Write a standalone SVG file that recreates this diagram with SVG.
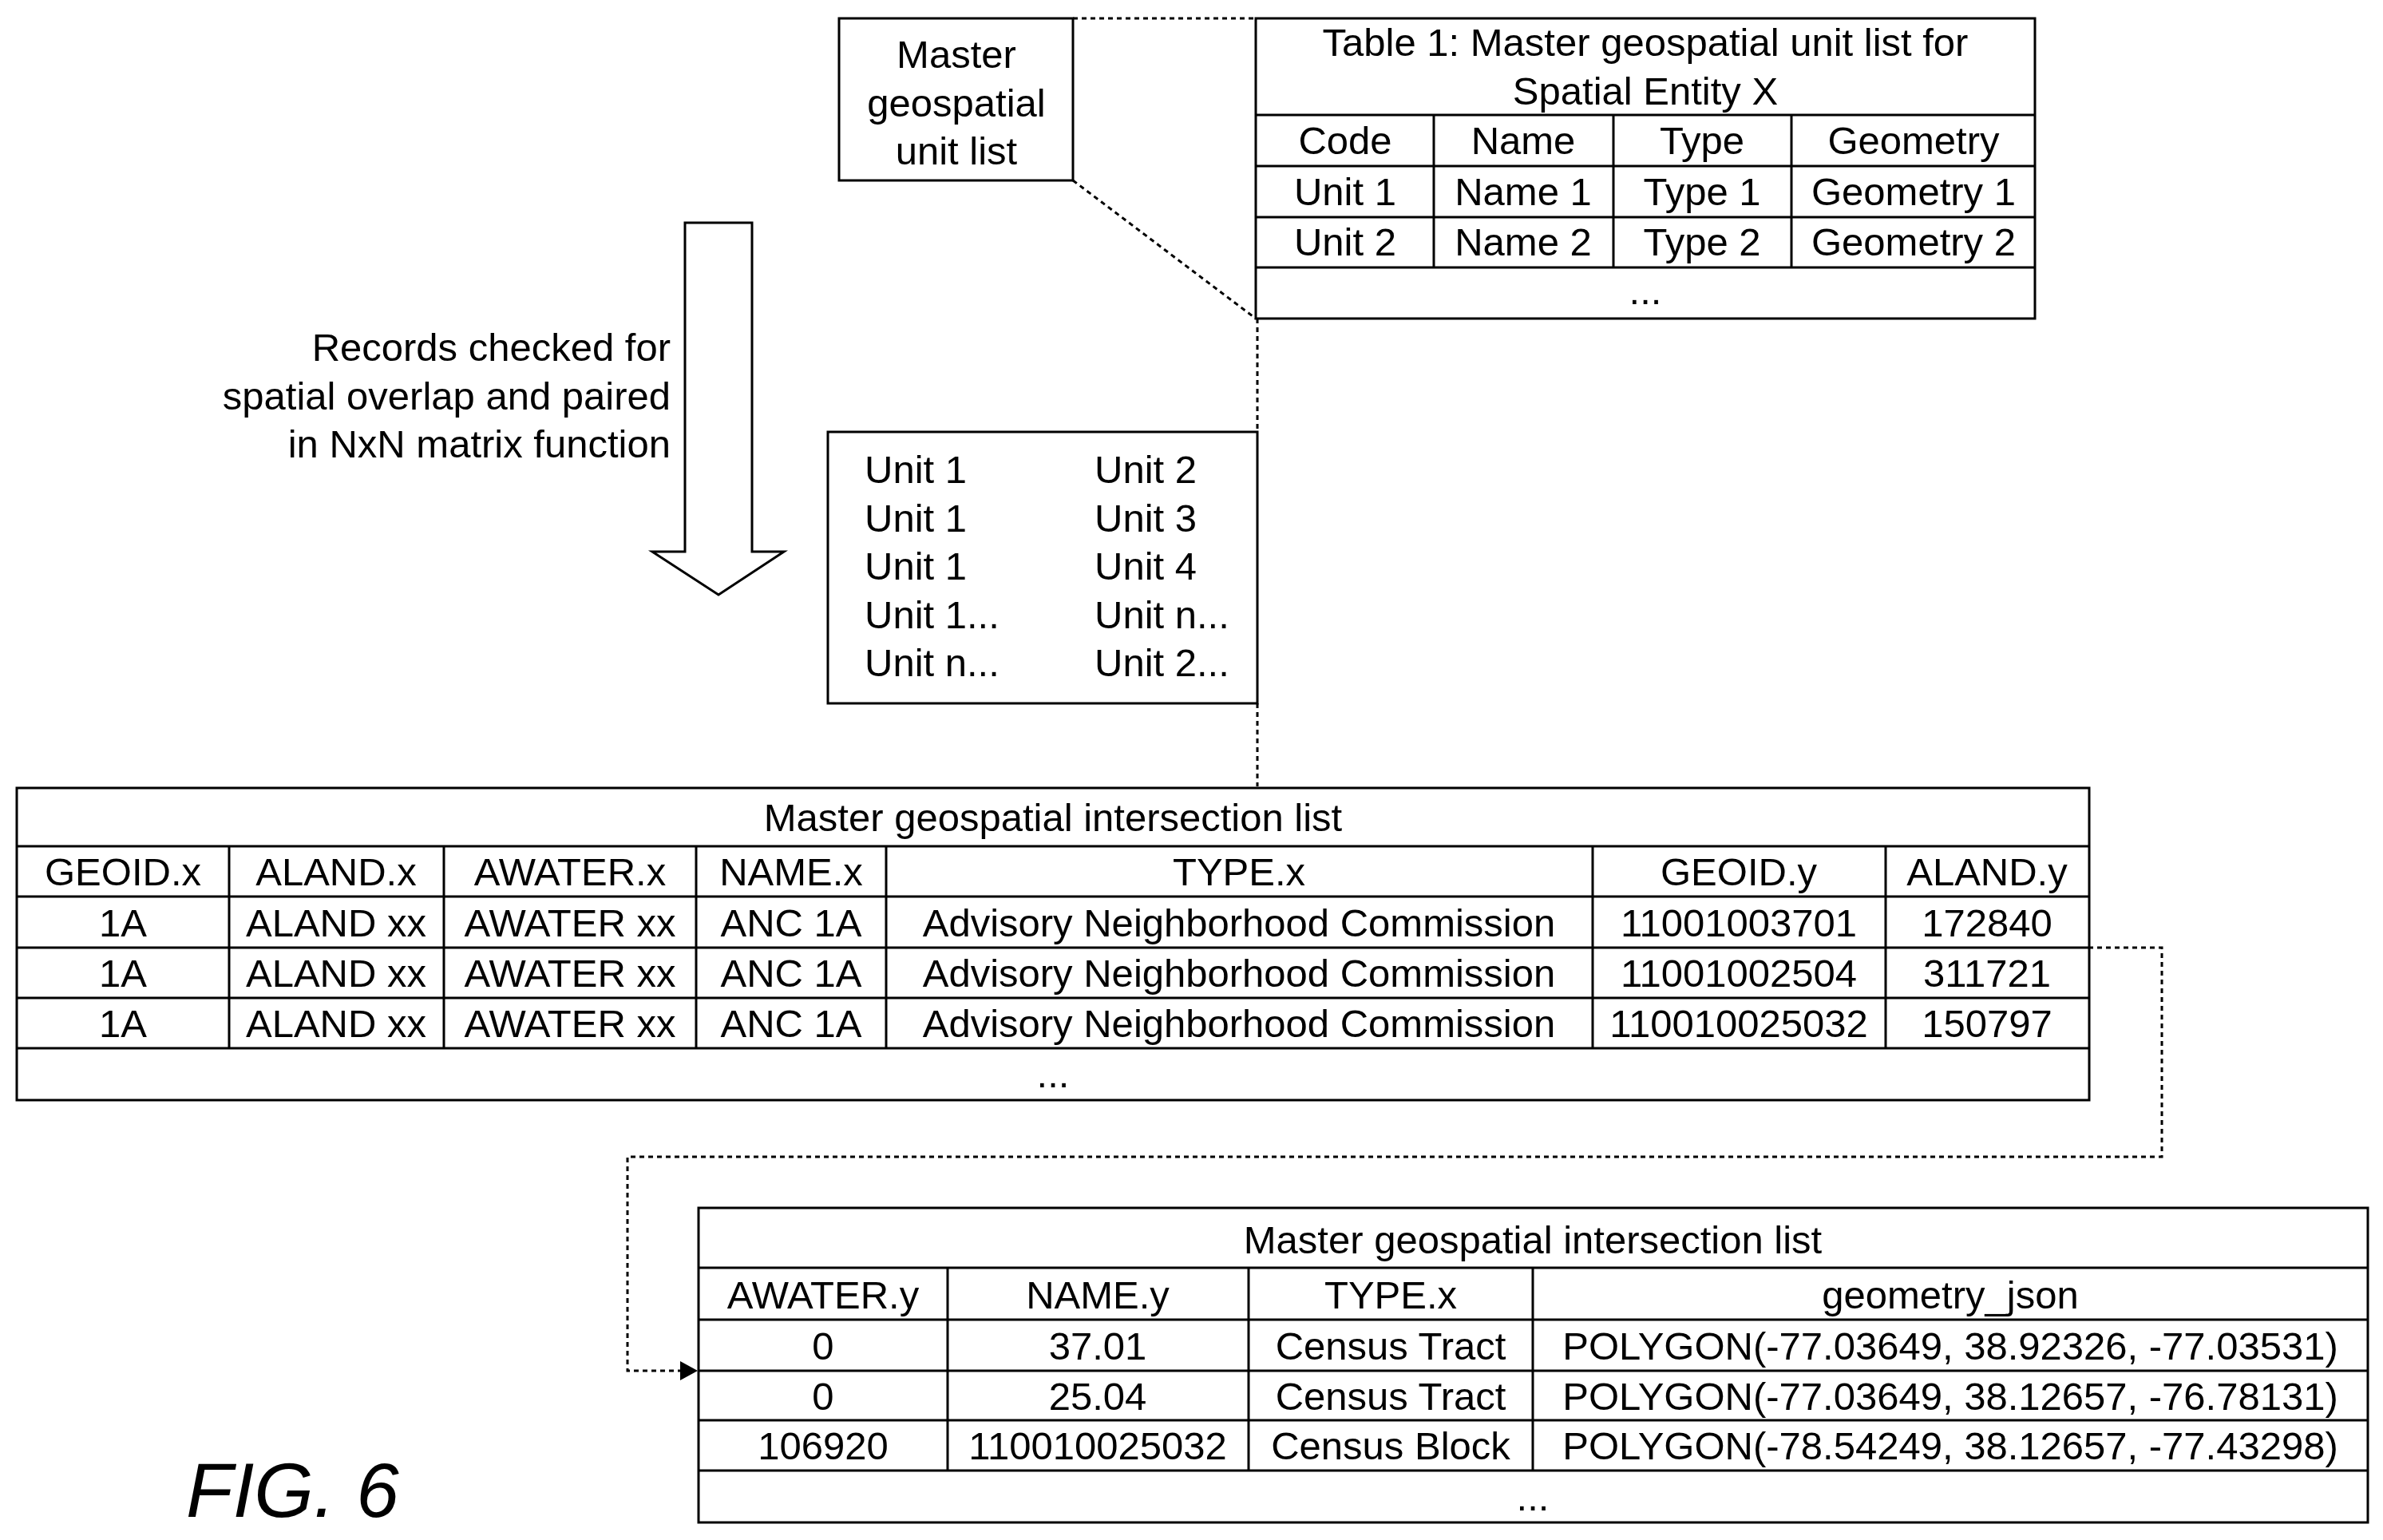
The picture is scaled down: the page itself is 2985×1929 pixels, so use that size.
<svg xmlns="http://www.w3.org/2000/svg" width="2985" height="1929" viewBox="0 0 2985 1929">
<style>
text{font-family:"Liberation Sans",Arial,sans-serif;font-size:49px;fill:#000;text-anchor:middle;dominant-baseline:central}
.l{text-anchor:start}.r{text-anchor:end}
.b{fill:#fff;stroke:#000;stroke-width:3}
.g{stroke:#000;stroke-width:3;fill:none}
.d{stroke:#000;stroke-width:3;fill:none;stroke-dasharray:6 5}
</style>
<g id="connectors">
<line class="d" x1="1344" y1="23" x2="1573" y2="23"/>
<line class="d" x1="1344" y1="226" x2="1573" y2="399"/>
<line class="d" x1="1575" y1="399" x2="1575" y2="541"/>
<line class="d" x1="1575" y1="881" x2="1575" y2="985"/>
<polyline class="d" points="2616,1187 2708,1187 2708,1449 786,1449 786,1717 852,1717"/>
<path d="M852,1705L874,1717L852,1729z" fill="#000"/>
</g>
<g id="arrow">
<path class="g" d="M858,279H942V691H982L900,745L817,691H858Z" fill="#fff"/>
<text class="r" x="840" y="435">Records checked for</text>
<text class="r" x="840" y="496">spatial overlap and paired</text>
<text class="r" x="840" y="556">in NxN matrix function</text>
</g>
<g id="master">
<rect class="b" x="1051" y="23" width="293" height="203"/>
<text x="1198" y="68">Master</text>
<text x="1198" y="129">geospatial</text>
<text x="1198" y="189">unit list</text>
</g>
<g id="table1">
<rect class="b" x="1573" y="23" width="976" height="376"/>
<path class="g" d="M1573,144H2549M1573,208H2549M1573,272H2549M1573,335H2549M1796,144V335M2021,144V335M2244,144V335"/>
<text x="2061" y="53">Table 1: Master geospatial unit list for</text>
<text x="2061" y="114">Spatial Entity X</text>
<text x="1685" y="176">Code</text><text x="1908" y="176">Name</text><text x="2132" y="176">Type</text><text x="2397" y="176">Geometry</text>
<text x="1685" y="240">Unit 1</text><text x="1908" y="240">Name 1</text><text x="2132" y="240">Type 1</text><text x="2397" y="240">Geometry 1</text>
<text x="1685" y="303">Unit 2</text><text x="1908" y="303">Name 2</text><text x="2132" y="303">Type 2</text><text x="2397" y="303">Geometry 2</text>
<text x="2061" y="364">...</text>
</g>
<g id="pairs">
<rect class="b" x="1037" y="541" width="538" height="340"/>
<text class="l" x="1083" y="588">Unit 1</text><text class="l" x="1371" y="588">Unit 2</text>
<text class="l" x="1083" y="649">Unit 1</text><text class="l" x="1371" y="649">Unit 3</text>
<text class="l" x="1083" y="709">Unit 1</text><text class="l" x="1371" y="709">Unit 4</text>
<text class="l" x="1083" y="770">Unit 1...</text><text class="l" x="1371" y="770">Unit n...</text>
<text class="l" x="1083" y="830">Unit n...</text><text class="l" x="1371" y="830">Unit 2...</text>
</g>
<g id="table2">
<rect class="b" x="21" y="987" width="2596" height="391"/>
<path class="g" d="M21,1060H2617M21,1123H2617M21,1187H2617M21,1250H2617M21,1313H2617M287,1060V1313M556,1060V1313M872,1060V1313M1110,1060V1313M1995,1060V1313M2362,1060V1313"/>
<text x="1319" y="1024">Master geospatial intersection list</text>
<text x="154" y="1092">GEOID.x</text><text x="421" y="1092">ALAND.x</text><text x="714" y="1092">AWATER.x</text><text x="991" y="1092">NAME.x</text><text x="1552" y="1092">TYPE.x</text><text x="2178" y="1092">GEOID.y</text><text x="2489" y="1092">ALAND.y</text>
<text x="154" y="1156">1A</text><text x="421" y="1156">ALAND xx</text><text x="714" y="1156">AWATER xx</text><text x="991" y="1156">ANC 1A</text><text x="1552" y="1156">Advisory Neighborhood Commission</text><text x="2178" y="1156">11001003701</text><text x="2489" y="1156">172840</text>
<text x="154" y="1219">1A</text><text x="421" y="1219">ALAND xx</text><text x="714" y="1219">AWATER xx</text><text x="991" y="1219">ANC 1A</text><text x="1552" y="1219">Advisory Neighborhood Commission</text><text x="2178" y="1219">11001002504</text><text x="2489" y="1219">311721</text>
<text x="154" y="1282">1A</text><text x="421" y="1282">ALAND xx</text><text x="714" y="1282">AWATER xx</text><text x="991" y="1282">ANC 1A</text><text x="1552" y="1282">Advisory Neighborhood Commission</text><text x="2178" y="1282">110010025032</text><text x="2489" y="1282">150797</text>
<text x="1319" y="1345">...</text>
</g>
<g id="table3">
<rect class="b" x="875" y="1513" width="2091" height="394"/>
<path class="g" d="M875,1588H2966M875,1653H2966M875,1717H2966M875,1779H2966M875,1842H2966M1187,1588V1842M1564,1588V1842M1920,1588V1842"/>
<text x="1920" y="1553">Master geospatial intersection list</text>
<text x="1031" y="1622">AWATER.y</text><text x="1375" y="1622">NAME.y</text><text x="1742" y="1622">TYPE.x</text><text x="2443" y="1622">geometry_json</text>
<text x="1031" y="1686">0</text><text x="1375" y="1686">37.01</text><text x="1742" y="1686">Census Tract</text><text x="2443" y="1686">POLYGON(-77.03649, 38.92326, -77.03531)</text>
<text x="1031" y="1749">0</text><text x="1375" y="1749">25.04</text><text x="1742" y="1749">Census Tract</text><text x="2443" y="1749">POLYGON(-77.03649, 38.12657, -76.78131)</text>
<text x="1031" y="1811">106920</text><text x="1375" y="1811">110010025032</text><text x="1742" y="1811">Census Block</text><text x="2443" y="1811">POLYGON(-78.54249, 38.12657, -77.43298)</text>
<text x="1920" y="1875">...</text>
</g>
<text class="l" x="233" y="1866" style="font-size:96px;font-style:italic">FIG. 6</text>
</svg>
